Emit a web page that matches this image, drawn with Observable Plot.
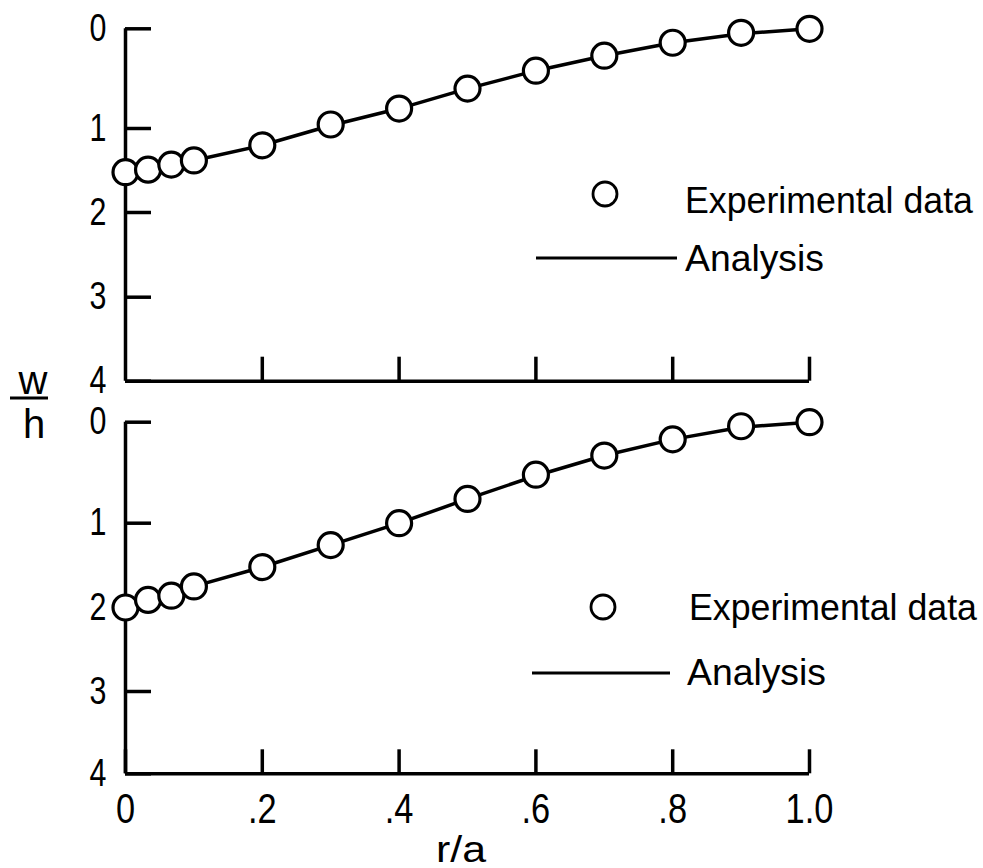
<!DOCTYPE html>
<html><head><meta charset="utf-8">
<script src="https://cdn.jsdelivr.net/npm/d3@7"></script>
<script src="https://cdn.jsdelivr.net/npm/@observablehq/plot@0.6"></script>
<style>
html,body{margin:0;padding:0;background:#fff;}
#chart{position:relative;width:983px;height:868px;overflow:hidden;background:#fff;}
#chart > svg{position:absolute;left:0;}
</style></head><body><div id="chart"></div>
<script>
const FONT = "'Liberation Sans', Arial, sans-serif";

// r/a stations of the data points
const rA = [0, 0.033, 0.067, 0.1, 0.2, 0.3, 0.4, 0.5, 0.6, 0.7, 0.8, 0.9, 1.0];
// upper panel, w/h
const topExperimental = [1.52, 1.49, 1.43, 1.38, 1.20, 0.96, 0.80, 0.60, 0.42, 0.27, 0.14, 0.04, 0.0];
const topAnalysis     = [1.52, 1.48, 1.43, 1.38, 1.20, 0.97, 0.80, 0.60, 0.42, 0.27, 0.14, 0.05, 0.0];
// lower panel, w/h
const bottomExperimental = [2.0, 1.91, 1.86, 1.75, 1.52, 1.26, 1.0, 0.76, 0.52, 0.33, 0.17, 0.04, 0.0];
const bottomAnalysis     = [2.0, 1.90, 1.85, 1.75, 1.52, 1.26, 1.0, 0.76, 0.53, 0.33, 0.17, 0.05, 0.0];

const xTicks = [0, 0.2, 0.4, 0.6, 0.8, 1.0];
const xTickLabels = ["0", ".2", ".4", ".6", ".8", "1.0"];
const yTicks = [0, 1, 2, 3, 4];
const yTickLabels = ["0", "1", "2", "3", "4"];
const legendLabels = ["Experimental data", "Analysis"];
const yLabelNum = "w", yLabelDen = "h", xLabel = "r/a";

function panel({exp, ana, height, yRange, showXLabels}) {
  const expData = rA.map((r, i) => ({r, w: exp[i]}));
  const anaData = rA.map((r, i) => ({r, w: ana[i]}));
  const x0 = xTicks[0], x1 = xTicks[xTicks.length - 1];
  const y0 = yTicks[0], y1 = yTicks[yTicks.length - 1];
  return Plot.plot({
    width: 983, height,
    marginLeft: 125, marginRight: 174,
    marginTop: yRange[0], marginBottom: height - yRange[yRange.length - 1],
    x: {type: "linear", domain: [x0, x1], range: [125, 809]},
    y: {type: "linear", domain: yTicks, range: yRange},
    style: {fontFamily: FONT, fontSize: "38px", color: "black", background: "white", overflow: "visible"},
    marks: [
      Plot.ruleX([{x: x0, a: y0, b: y1}], {x: "x", y1: "a", y2: "b", strokeWidth: 3.5}),
      Plot.ruleY([{y: y1, a: x0, b: x1}], {y: "y", x1: "a", x2: "b", strokeWidth: 3.5}),
      Plot.axisY({ticks: yTicks, tickFormat: d => yTickLabels[yTicks.indexOf(d)], tickSize: -26, tickPadding: 45,
                  strokeWidth: 3.5, fontSize: 38, label: null}),
      Plot.axisX({ticks: showXLabels ? xTicks : xTicks.slice(1),
                  tickFormat: showXLabels ? (d => xTickLabels[xTicks.indexOf(d)]) : (() => ""),
                  tickSize: -24, tickPadding: 43, strokeWidth: 3.5, fontSize: 43, label: null}),
      Plot.line(anaData, {x: "r", y: "w", strokeWidth: 3.5}),
      Plot.dot(expData, {x: "r", y: "w", r: 12.5, fill: "white", stroke: "black", strokeWidth: 3.2})
    ]
  });
}

// narrow the glyphs to imitate the condensed lettering of the original
function condense(node, factor) {
  d3.select(node).selectAll("text").each(function () {
    if (!this.textContent) return;
    const w = this.getComputedTextLength();
    if (w > 0) {
      this.setAttribute("textLength", (w * factor).toFixed(1));
      this.setAttribute("lengthAdjust", "spacingAndGlyphs");
    }
  });
}

const chart = document.getElementById("chart");
const top1 = panel({exp: topExperimental, ana: topAnalysis, height: 400,
  yRange: [28.3, 128, 212, 296.7, 380.7], showXLabels: false});
top1.style.top = "0px";
chart.appendChild(top1);
condense(top1, 0.8);
const bot = panel({exp: bottomExperimental, ana: bottomAnalysis, height: 468,
  yRange: [21.7, 122.7, 207, 291, 373.3], showXLabels: true});
bot.style.top = "400px";
chart.appendChild(bot);
condense(bot, 0.8);

// overlay: legends and axis titles
const ov = d3.select(chart).append("svg")
  .attr("width", 983).attr("height", 868)
  .style("top", "0px").style("pointer-events", "none")
  .style("font-family", FONT);

function legend(cx, cy, tx, ty, lx1, lx2, ly, atx, aty) {
  ov.append("circle").attr("cx", cx).attr("cy", cy).attr("r", 12)
    .attr("fill", "white").attr("stroke", "black").attr("stroke-width", 2.8);
  ov.append("text").attr("x", tx).attr("y", ty).attr("dominant-baseline", "central")
    .attr("font-size", 36).attr("textLength", 288).attr("lengthAdjust", "spacingAndGlyphs")
    .text(legendLabels[0]);
  ov.append("line").attr("x1", lx1).attr("x2", lx2).attr("y1", ly).attr("y2", ly)
    .attr("stroke", "black").attr("stroke-width", 3);
  ov.append("text").attr("x", atx).attr("y", aty).attr("dominant-baseline", "central")
    .attr("font-size", 36).attr("textLength", 139).attr("lengthAdjust", "spacingAndGlyphs")
    .text(legendLabels[1]);
}
legend(605, 194, 685, 200, 536, 677, 258, 685, 258);
legend(603, 607, 689, 607, 532, 670, 673, 687, 672);

ov.append("text").attr("x", 33).attr("y", 380).attr("text-anchor", "middle")
  .attr("dominant-baseline", "central").attr("font-size", 40).text(yLabelNum);
ov.append("line").attr("x1", 10).attr("x2", 48).attr("y1", 398).attr("y2", 398)
  .attr("stroke", "black").attr("stroke-width", 2.8);
ov.append("text").attr("x", 34).attr("y", 424).attr("text-anchor", "middle")
  .attr("dominant-baseline", "central").attr("font-size", 40).text(yLabelDen);
ov.append("text").attr("x", 461).attr("y", 849).attr("text-anchor", "middle")
  .attr("dominant-baseline", "central").attr("font-size", 37)
  .attr("textLength", 50).attr("lengthAdjust", "spacingAndGlyphs").text(xLabel);
</script>
</body></html>
